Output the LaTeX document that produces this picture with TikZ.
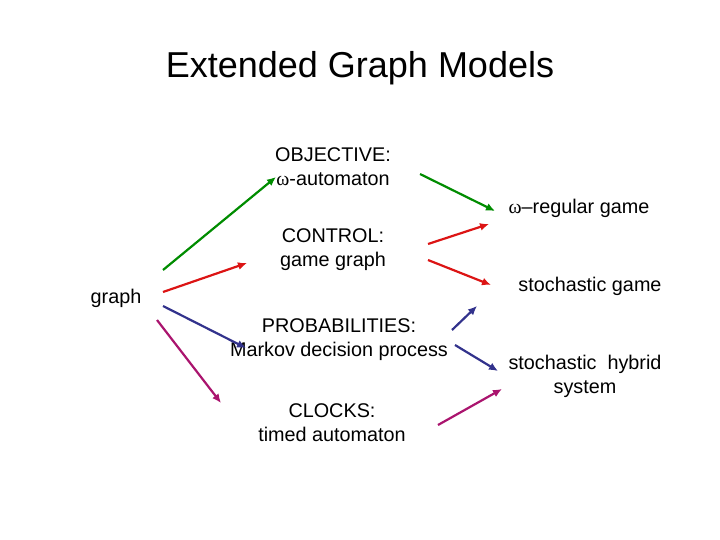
\documentclass[tikz,border=0pt]{standalone}
\usepackage{fontspec}
\setmainfont{Liberation Sans}
\newfontfamily\symf{Liberation Serif}
\usetikzlibrary{arrows.meta}
\begin{document}
\begin{tikzpicture}[x=1pt,y=-1pt,
 lbl/.style={font=\fontsize{19.8}{24}\selectfont,inner sep=0pt,align=center},
 arr/.style={line width=2.2pt,-{Latex[length=9pt,width=8pt]}},
 gr/.style={arr,draw={rgb,255:red,0;green,140;blue,0}},
 rd/.style={arr,draw={rgb,255:red,220;green,20;blue,20}},
 bl/.style={arr,draw={rgb,255:red,50;green,50;blue,140}},
 pu/.style={arr,draw={rgb,255:red,170;green,20;blue,110}}]
\useasboundingbox (0,0) rectangle (720,540);
\node[font=\fontsize{36}{40}\selectfont] (title) at (360,68) {Extended Graph Models};
\node[lbl] (obj) at (333,167) {OBJECTIVE:\\{\symf ω}-automaton};
\node[lbl] (wreg) at (579,208) {{\symf ω}–regular game};
\node[lbl] (ctl) at (333,250) {CONTROL:\\game graph};
\node[lbl] (sg) at (590,286) {stochastic game};
\node[lbl] (g) at (116,298) {graph};
\node[lbl] (prob) at (339,340) {PROBABILITIES:\\Markov decision process};
\node[lbl] (shs) at (585,376) {stochastic\ \ hybrid\\system};
\node[lbl] (clk) at (332,423) {CLOCKS:\\timed automaton};
\coordinate (a1) at (163,270); \coordinate (a2) at (276,177);
\coordinate (b1) at (420,174); \coordinate (b2) at (495,211);
\coordinate (c1) at (163,292); \coordinate (c2) at (247,263);
\coordinate (d1) at (428,244); \coordinate (d2) at (489,224);
\coordinate (e1) at (428,260); \coordinate (e2) at (491,285);
\coordinate (f1) at (163,306); \coordinate (f2) at (246,348);
\coordinate (h1) at (452,330); \coordinate (h2) at (477,306);
\coordinate (i1) at (455,345); \coordinate (i2) at (498,371);
\coordinate (j1) at (157,320); \coordinate (j2) at (221,403);
\coordinate (k1) at (438,425); \coordinate (k2) at (502,389);
\draw[gr] (a1)--(a2); \draw[gr] (b1)--(b2);
\draw[rd] (c1)--(c2); \draw[rd] (d1)--(d2); \draw[rd] (e1)--(e2);
\draw[bl] (f1)--(f2); \draw[bl] (h1)--(h2); \draw[bl] (i1)--(i2);
\draw[pu] (j1)--(j2); \draw[pu] (k1)--(k2);
\end{tikzpicture}
\end{document}
